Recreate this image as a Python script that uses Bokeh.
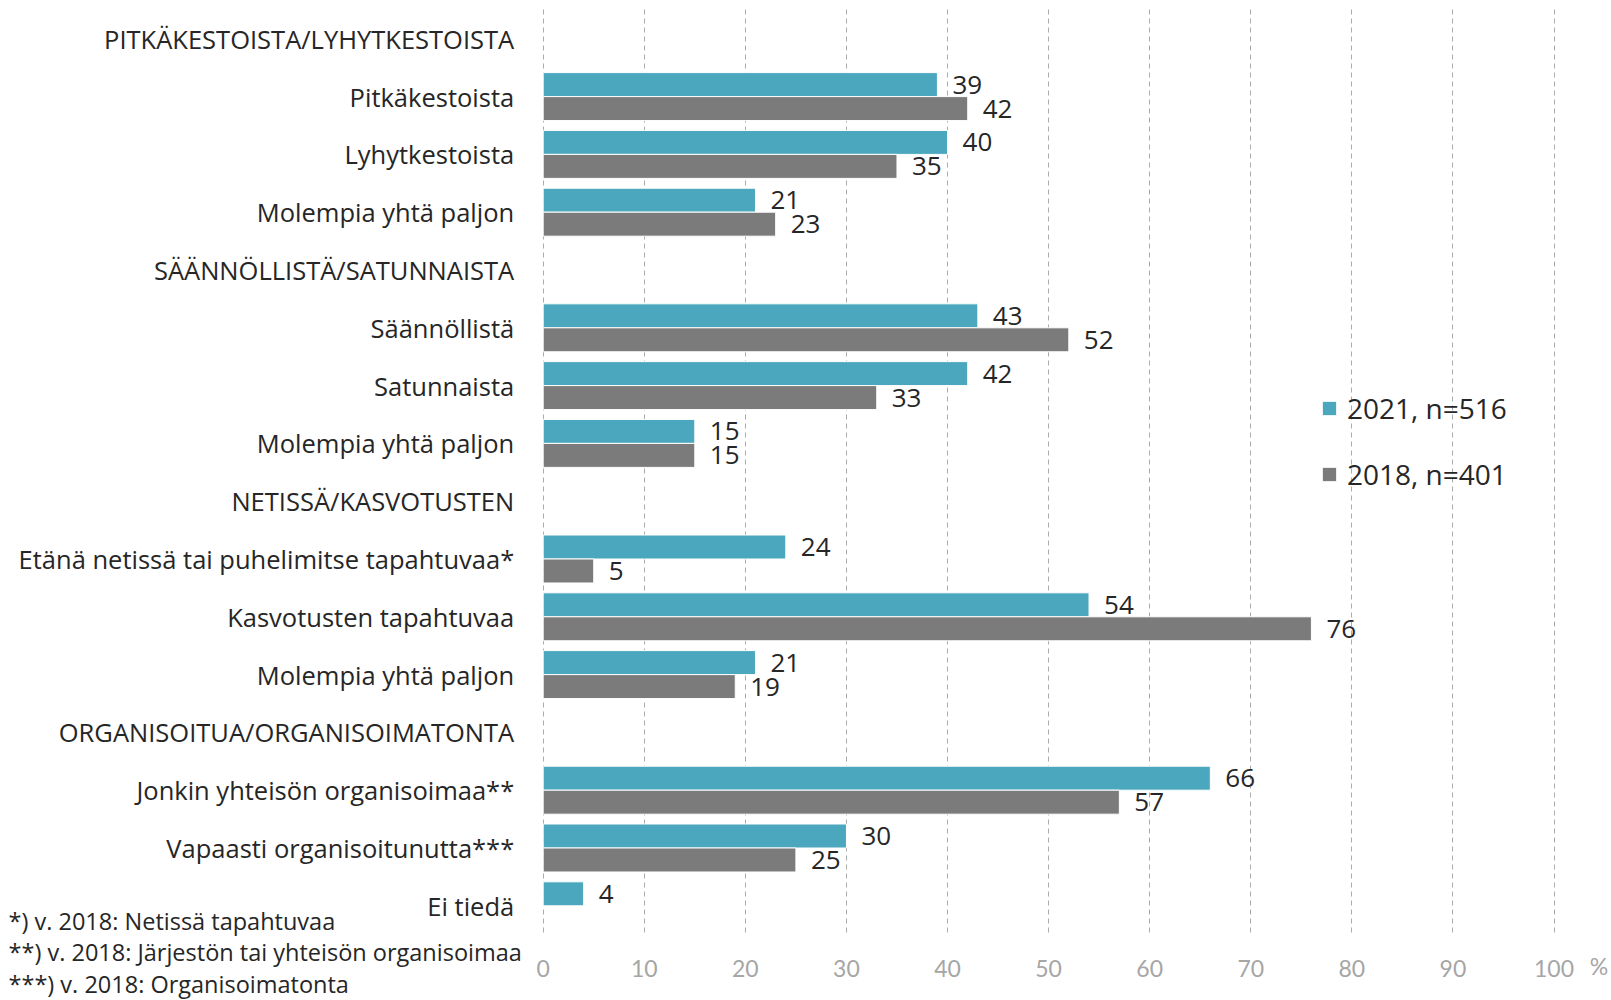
from bokeh.plotting import figure
from bokeh.models import (ColumnDataSource, Range1d, FixedTicker, LabelSet, Label,
                          Legend, LegendItem)
from bokeh.core.properties import value
from bokeh.transform import dodge
from bokeh.embed import file_html
from bokeh.resources import INLINE

categories = [
    "PITKÄKESTOISTA/LYHYTKESTOISTA",
    "Pitkäkestoista",
    "Lyhytkestoista",
    "Molempia yhtä paljon",
    "SÄÄNNÖLLISTÄ/SATUNNAISTA",
    "Säännöllistä",
    "Satunnaista",
    "Molempia yhtä paljon",
    "NETISSÄ/KASVOTUSTEN",
    "Etänä netissä tai puhelimitse tapahtuvaa*",
    "Kasvotusten tapahtuvaa",
    "Molempia yhtä paljon",
    "ORGANISOITUA/ORGANISOIMATONTA",
    "Jonkin yhteisön organisoimaa**",
    "Vapaasti organisoitunutta***",
    "Ei tiedä",
]
values_2021 = [None, 39, 40, 21, None, 43, 42, 15, None, 24, 54, 21, None, 66, 30, 4]
values_2018 = [None, 42, 35, 23, None, 52, 33, 15, None, 5, 76, 19, None, 57, 25, None]
series_names = ["2021, n=516", "2018, n=401"]
x_ticks = [0, 10, 20, 30, 40, 50, 60, 70, 80, 90, 100]
footnotes = [
    "*) v. 2018: Netissä tapahtuvaa",
    "**) v. 2018: Järjestön tai yhteisön organisoimaa",
    "***) v. 2018: Organisoimatonta",
]

TEAL = "#4BA7BD"
GRAY = "#7B7B7B"
TEXT = "#262626"
TICK = "#A6A6A6"
FONT = "Open Sans"


def make_source(vals):
    idx = [i for i, v in enumerate(vals) if v is not None]
    vs = [vals[i] for i in idx]
    return ColumnDataSource(dict(idx=idx, val=vs, txt=[str(v) for v in vs]))


src21 = make_source(values_2021)
src18 = make_source(values_2018)
n = len(categories)

W, H = 1611, 1000
X0_PX, X100_PX = 542.7, 1553.5          # pixel positions of 0 and 100
TOP_PX, STEP_PX = 38.3, 57.8            # first category centre, category step
ppu = (X100_PX - X0_PX) / 100.0
x_start = -X0_PX / ppu
x_end = 100 + (W - X100_PX) / ppu
y_top = -TOP_PX / STEP_PX
y_bottom = (H - TOP_PX) / STEP_PX

p = figure(width=W, height=H, x_range=Range1d(x_start, x_end),
           y_range=Range1d(y_bottom, y_top),
           output_backend="svg", toolbar_location=None,
           min_border_left=0, min_border_right=0, min_border_top=0,
           min_border_bottom=0)
p.outline_line_color = None
p.background_fill_color = "white"
p.border_fill_color = "white"

BAR_H = 0.415
r21 = p.hbar(y=dodge("idx", -BAR_H / 2, range=p.y_range), right="val", left=0,
             height=BAR_H, source=src21, fill_color=TEAL, line_color="white",
             line_width=1)
r18 = p.hbar(y=dodge("idx", BAR_H / 2, range=p.y_range), right="val", left=0,
             height=BAR_H, source=src18, fill_color=GRAY, line_color="white",
             line_width=1)

for src, off in ((src21, -BAR_H / 2), (src18, BAR_H / 2)):
    p.add_layout(LabelSet(x="val", y=dodge("idx", off, range=p.y_range), text="txt",
                          source=src, x_offset=15, text_align="left",
                          text_baseline="middle", text_font=value(FONT),
                          text_font_size=value("26px"), text_color=TEXT))

# grid (only over the category area)
p.ygrid.grid_line_color = None
p.xgrid.ticker = FixedTicker(ticks=x_ticks)
p.xgrid.grid_line_color = "#ABABAB"
p.xgrid.grid_line_dash = "5 4"
p.xgrid.grid_line_width = 1
p.xgrid.cross_bounds = (-0.5, n - 0.5)

# x axis at the bottom of the category area
xa = p.xaxis[0]
xa.fixed_location = n - 0.5
xa.ticker = FixedTicker(ticks=x_ticks)
xa.axis_line_color = None
xa.major_tick_line_color = None
xa.minor_tick_line_color = None
xa.major_label_standoff = 19
xa.major_label_text_font = "Lato"
xa.major_label_text_font_size = "23px"
xa.major_label_text_color = TICK

# y axis with category labels at x = 0
ya = p.yaxis[0]
ya.fixed_location = 0
ya.ticker = FixedTicker(ticks=list(range(n)))
ya.major_label_overrides = {i: c for i, c in enumerate(categories)}
ya.axis_line_color = None
ya.major_tick_line_color = None
ya.minor_tick_line_color = None
ya.major_label_standoff = 23
ya.major_label_text_font = FONT
ya.major_label_text_font_size = "25.5px"
ya.major_label_text_color = TEXT

# percent sign after 100
p.add_layout(Label(x=100, y=n - 0.5, x_offset=45, y_offset=-31, text="%",
                   text_align="center", text_baseline="middle", text_font="Lato",
                   text_font_size="23px", text_color=TICK))

# legend
legend = Legend(items=[LegendItem(label=series_names[0], renderers=[r21]),
                       LegendItem(label=series_names[1], renderers=[r18])],
                location=(1320, 507), orientation="vertical",
                border_line_color=None, background_fill_alpha=0,
                padding=0, margin=0, spacing=28, glyph_width=18, glyph_height=18,
                label_standoff=9, label_text_font=FONT,
                label_text_font_size="28px", label_text_color=TEXT)
p.add_layout(legend)

# footnotes
for t, yy in zip(footnotes, [80, 48.5, 17]):
    p.add_layout(Label(x=8, y=yy, x_units="screen", y_units="screen", text=t,
                       text_align="left", text_baseline="middle", text_font=FONT,
                       text_font_size="23.5px", text_color=TEXT))

open("out.html", "w").write(file_html(p, INLINE))
